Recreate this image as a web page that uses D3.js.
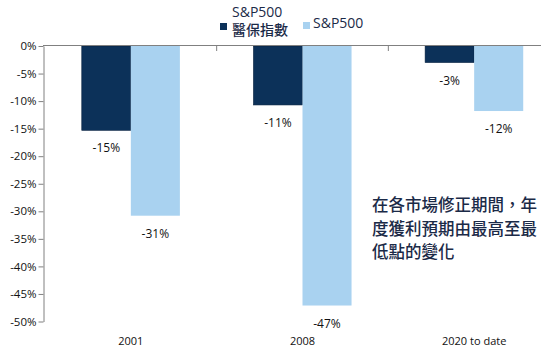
<!DOCTYPE html>
<html>
<head>
    <meta charset='utf-8'>
    <title>S&P500 EPS</title>
    <script src='https://cdn.jsdelivr.net/npm/d3@7/dist/d3.min.js'></script>
    <style>
        body { margin: 0; background: #fff; }
        text { font-family: 'Open Sans', 'Noto Sans CJK TC', sans-serif; }
    </style>
</head>
<body>
    <svg width='550' height='350'></svg>
    <script>
        // 数据
        const categories = ['2001', '2008', '2020 to date']
        const seriesNames = ['S&P500 醫保指數', 'S&P500']
        const healthcare = [-15.3, -10.7, -3.0]
        const sp500 = [-30.8, -47.1, -11.8]
        const healthLabels = ['-15%', '-11%', '-3%']
        const spLabels = ['-31%', '-47%', '-12%']
        const yTicks = [0, -5, -10, -15, -20, -25, -30, -35, -40, -45, -50]
        const note = ['在各市場修正期間，年', '度獲利預期由最高至最', '低點的變化']

        const colors = ['#0c3159', '#a9d2f0']
        const textColor = '#1b2a47'

        const svg = d3.select('svg')
        const yScale = d3.scaleLinear([0, -50], [46, 321.5])
        const xScale = d3.scaleBand(categories, [45, 560])
        const subScale = d3.scaleBand([0, 1], [0, xScale.bandwidth()]).paddingOuter(0.75).paddingInner(0)

        const rows = categories.map((c, i) => ({
            cat: c,
            vals: [
                { s: 0, v: healthcare[i], label: healthLabels[i] },
                { s: 1, v: sp500[i], label: spLabels[i] }
            ]
        }))

        // 柱子
        const groups = svg.selectAll('g.grp').data(rows).enter().append('g')
            .attr('class', 'grp')
            .attr('transform', d => `translate(${xScale(d.cat)},0)`)

        groups.selectAll('rect').data(d => d.vals).enter().append('rect')
            .attr('x', d => subScale(d.s))
            .attr('y', yScale(0))
            .attr('width', subScale.bandwidth())
            .attr('height', d => yScale(d.v) - yScale(0))
            .attr('fill', d => colors[d.s])
            .attr('stroke', d => d.s === 0 ? '#07213f' : 'none')
            .attr('stroke-width', 0.6)

        groups.selectAll('text.val').data(d => d.vals).enter().append('text')
            .attr('class', 'val')
            .attr('x', d => subScale(d.s) + subScale.bandwidth() / 2)
            .attr('y', d => yScale(d.v) + 22)
            .attr('text-anchor', 'middle')
            .attr('font-size', '12px')
            .attr('fill', '#111')
            .text(d => d.label)

        // Y轴
        const yAxis = d3.axisLeft(yScale).tickValues(yTicks).tickSize(5).tickSizeOuter(0)
            .tickFormat(d => d + '%')
        const gY = svg.append('g').attr('transform', 'translate(43.5,0)').call(yAxis)
        gY.select('.domain').attr('stroke', '#808080')
        gY.selectAll('.tick line').attr('stroke', '#808080')
        gY.selectAll('.tick text').attr('font-size', '11.5px').attr('fill', '#111')
            .attr('font-family', 'Open Sans, sans-serif').attr('x', -7)

        // 顶部零线与分隔刻度
        svg.append('line')
            .attr('x1', 43).attr('x2', 541)
            .attr('y1', yScale(0) - 0.5).attr('y2', yScale(0) - 0.5)
            .attr('stroke', '#808080').attr('stroke-width', 1.2)
        svg.selectAll('line.sep').data(categories.slice(1)).enter().append('line')
            .attr('class', 'sep')
            .attr('x1', d => xScale(d)).attr('x2', d => xScale(d))
            .attr('y1', yScale(0)).attr('y2', yScale(0) + 5)
            .attr('stroke', '#808080')

        // 类别标签
        svg.selectAll('text.cat').data(categories).enter().append('text')
            .attr('class', 'cat')
            .attr('x', d => xScale(d) + xScale.bandwidth() / 2)
            .attr('y', 345)
            .attr('text-anchor', 'middle')
            .attr('font-size', '11px')
            .attr('fill', '#111')
            .text(d => d)

        // 图例
        const legend = svg.append('g').attr('font-size', '14px').attr('fill', textColor).attr('font-weight', 500)
        legend.append('rect').attr('x', 220).attr('y', 23).attr('width', 7).attr('height', 7).attr('fill', colors[0])
        legend.append('text').attr('x', 232).attr('y', 17).text('S&P500')
        legend.append('text').attr('x', 232).attr('y', 35).text('醫保指數')
            .attr('font-family', 'Noto Sans CJK TC, sans-serif')
        legend.append('rect').attr('x', 303).attr('y', 22).attr('width', 7).attr('height', 7).attr('fill', colors[1])
        legend.append('text').attr('x', 313).attr('y', 28).text('S&P500')

        // 注释
        svg.append('g').selectAll('text').data(note).enter().append('text')
            .attr('x', 372)
            .attr('y', (d, i) => 211 + i * 23.5)
            .attr('font-size', '16.5px')
            .attr('font-weight', 500)
            .attr('font-family', 'Noto Sans CJK TC, sans-serif')
            .attr('fill', textColor)
            .text(d => d)
    </script>
</body>
</html>
